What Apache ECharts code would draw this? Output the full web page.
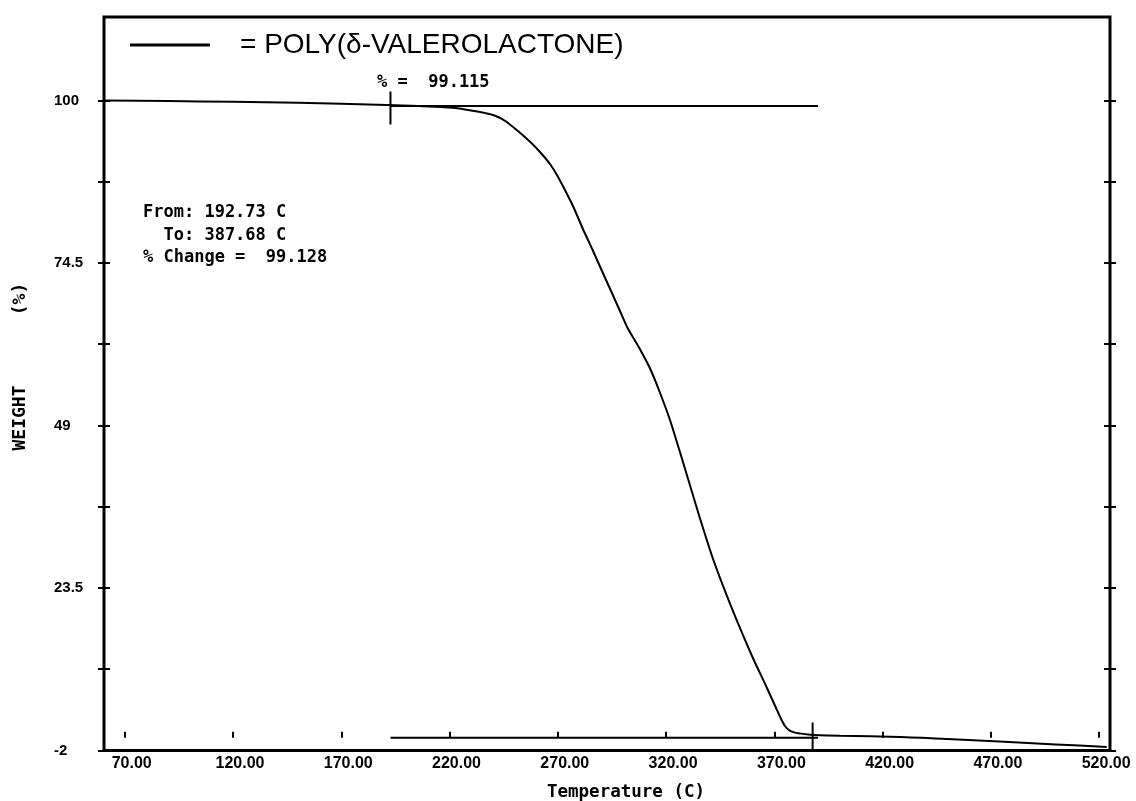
<!DOCTYPE html>
<html>
<head>
<meta charset="utf-8">
<script src="https://cdn.jsdelivr.net/npm/echarts@6/dist/echarts.min.js"></script>
<style>
html, body { margin: 0; padding: 0; background: #fff; }
#chart { width: 1136px; height: 801px; }
</style>
</head>
<body>
<div id="chart"></div>
<script>
// Thermogravimetric trace: sample temperature (C) against remaining weight (%)
const temperature = [60.44, 90, 120, 150, 170, 195, 215.6, 221.6, 227.1, 234.1, 240.1, 244.2, 247.9,
  251.6, 255.8, 259.5, 263.2, 266.4, 269.6, 273.3, 277.0, 281.6, 286.3, 290.4, 295.0, 298.7,
  302.0, 305.2, 307.9, 312.5, 316.7, 321.8, 326.4, 331.0, 335.6, 341.7, 348.1, 354.1, 360.1,
  366.6, 371.2, 373.1, 374.9, 376.8, 379.1, 382.3, 385.5, 391.1, 400.4, 428, 450, 474, 500, 523.5];
const weight = [100.0, 99.9, 99.8, 99.65, 99.5, 99.25, 98.98, 98.85, 98.59, 98.19, 97.72, 97.1, 96.23,
  95.2, 93.95, 92.75, 91.37, 90.03, 88.31, 85.95, 83.44, 79.83, 76.38, 73.24, 69.79, 66.97,
  64.46, 62.57, 61.0, 58.02, 54.57, 49.86, 44.84, 39.67, 34.49, 28.05, 22.25, 17.23, 12.52,
  7.81, 4.36, 2.95, 1.85, 1.2, 0.85, 0.65, 0.5, 0.38, 0.3, 0.12, -0.2, -0.6, -1.05, -1.45];

// Axis ticks and labels
const xTicks = [70, 120, 170, 220, 270, 320, 370, 420, 470, 520];
const yTicks = [-2, 10.75, 23.5, 36.25, 49, 61.75, 74.5, 87.25, 100];
const yLabels = [-2, 23.5, 49, 74.5, 100];

// Step analysis cursors
const stepFrom = 192.73;      // C
const stepTo = 387.68;        // C
const cursorEnd = 390.2;      // C, right end of the level lines
const upperLevel = 99.115;    // %
const lowerLevel = -0.013;    // %
const percentChange = 99.128; // %

const sampleName = 'POLY(δ-VALEROLACTONE)';

const mono = "'DejaVu Sans Mono', 'Liberation Mono', monospace";
const sans = "'Liberation Sans', Arial, sans-serif";
const X_MIN = 60.44, X_MAX = 525, Y_MIN = -2, Y_MAX = 113.1;

const chart = echarts.init(document.getElementById('chart'), null, { renderer: 'canvas' });

const tickStyle = { color: '#000', width: 2 };
function yAxisDef(position, inside, withLabels) {
  return {
    type: 'value', position: position, min: Y_MIN, max: Y_MAX,
    axisLine: { show: false },
    splitLine: { show: false },
    axisTick: { show: true, inside: inside, length: 6, lineStyle: tickStyle, customValues: yTicks },
    axisLabel: withLabels ? {
      show: true, customValues: yLabels, align: 'left', margin: 50,
      color: '#000', fontFamily: sans, fontSize: 15, fontWeight: 'bold',
      formatter: v => String(v)
    } : { show: false }
  };
}

const curve = temperature.map((t, i) => [t, weight[i]]);
const thin = { color: '#000', width: 2 };

const option = {
  animation: false,
  backgroundColor: '#fff',
  grid: { left: 104, right: 26, top: 17, bottom: 50.5, show: true, borderColor: '#000', borderWidth: 3, backgroundColor: 'transparent' },
  legend: {
    data: [sampleName], left: 130, top: 29, padding: 0, icon: 'rect', itemWidth: 80, itemHeight: 3,
    formatter: '= {name}', selectedMode: false,
    textStyle: { color: '#000', fontFamily: sans, fontSize: 28, padding: [0, 0, 0, 25], lineHeight: 32 }
  },
  xAxis: {
    type: 'value', min: X_MIN, max: X_MAX, position: 'bottom',
    axisLine: { show: false }, splitLine: { show: false },
    axisTick: { show: true, inside: true, length: 6, lineStyle: tickStyle, customValues: xTicks },
    axisLabel: {
      show: true, customValues: xTicks, margin: 5, color: '#000',
      fontFamily: sans, fontSize: 16, fontWeight: 'bold', padding: [0, 0, 0, 14],
      formatter: v => v.toFixed(2)
    }
  },
  yAxis: [
    yAxisDef('left', false, true),
    yAxisDef('left', true, false),
    yAxisDef('right', false, false),
    yAxisDef('right', true, false)
  ],
  series: [
    {
      name: sampleName, type: 'line', data: curve, showSymbol: false, symbol: 'none',
      smooth: 0.25, lineStyle: thin, itemStyle: { color: '#000' }, z: 5
    },
    { type: 'line', data: [[stepFrom, upperLevel], [cursorEnd, upperLevel]], symbol: 'none', lineStyle: thin },
    { type: 'line', data: [[stepFrom, lowerLevel], [cursorEnd, lowerLevel]], symbol: 'none', lineStyle: thin },
    { type: 'line', data: [[stepFrom, upperLevel + 2.3], [stepFrom, upperLevel - 2.9]], symbol: 'none', lineStyle: thin },
    { type: 'line', data: [[stepTo, 2.4], [stepTo, Y_MIN]], symbol: 'none', lineStyle: thin }
  ],
  graphic: [
    { type: 'text', x: 377, y: 82.5, style: { text: '% =  ' + upperLevel.toFixed(3), font: 'bold 17px ' + mono, fill: '#000', verticalAlign: 'middle' } },
    { type: 'text', x: 143, y: 213, style: { text: 'From: ' + stepFrom.toFixed(2) + ' C', font: 'bold 17px ' + mono, fill: '#000', verticalAlign: 'middle' } },
    { type: 'text', x: 143, y: 236, style: { text: '  To: ' + stepTo.toFixed(2) + ' C', font: 'bold 17px ' + mono, fill: '#000', verticalAlign: 'middle' } },
    { type: 'text', x: 143, y: 257.5, style: { text: '% Change =  ' + percentChange.toFixed(3), font: 'bold 17px ' + mono, fill: '#000', verticalAlign: 'middle' } },
    { type: 'text', x: 626, y: 792, style: { text: 'Temperature (C)', font: 'bold 17.5px ' + mono, fill: '#000', align: 'center', verticalAlign: 'middle' } },
    { type: 'text', x: 20, y: 418, rotation: Math.PI / 2, style: { text: 'WEIGHT', font: 'bold 18px ' + mono, fill: '#000', align: 'center', verticalAlign: 'middle' } },
    { type: 'text', x: 20, y: 299, rotation: Math.PI / 2, style: { text: '(%)', font: 'bold 18px ' + mono, fill: '#000', align: 'center', verticalAlign: 'middle' } }
  ]
};

chart.setOption(option);
</script>
</body>
</html>
